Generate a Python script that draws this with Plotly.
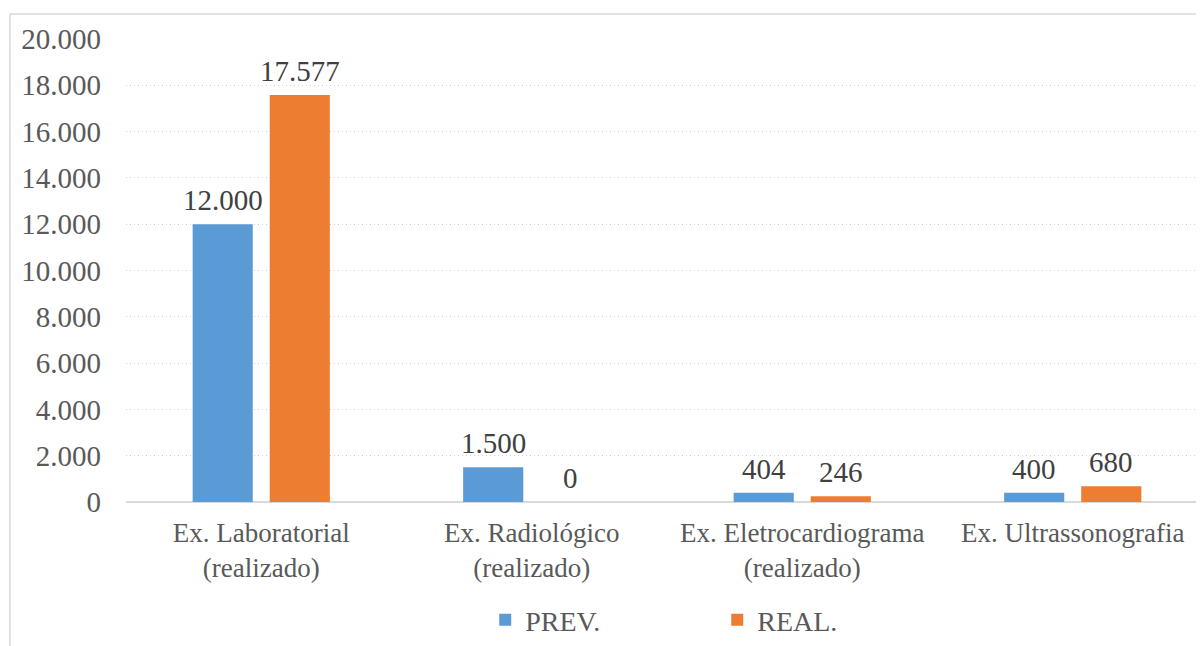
import plotly.graph_objects as go

categories = ["Ex. Laboratorial<br>(realizado)", "Ex. Radiológico<br>(realizado)",
              "Ex. Eletrocardiograma<br>(realizado)", "Ex. Ultrassonografia"]
prev_vals = [12000, 1500, 404, 400]
real_vals = [17577, 0, 246, 680]
y_ticks = [0, 2000, 4000, 6000, 8000, 10000, 12000, 14000, 16000, 18000, 20000]


def fmt(v):
    return f"{v:,}".replace(",", ".")


font = "Liberation Serif, Times New Roman, serif"
BARGAP = 0.43
GROUPGAP = 0.22

fig = go.Figure()
fig.add_trace(go.Bar(name="PREV.", x=categories, y=prev_vals, marker_color="#5B9BD5",
                     marker_line_width=0))
fig.add_trace(go.Bar(name="REAL.", x=categories, y=real_vals, marker_color="#ED7D31",
                     marker_line_width=0))

# data labels placed over each bar through the category axis
slot = (1 - BARGAP) / 2
annotations = []
for i, (p, r) in enumerate(zip(prev_vals, real_vals)):
    for val, off in ((p, -slot / 2), (r, slot / 2)):
        annotations.append(dict(x=i + off, y=val, xref="x", yref="y", text=fmt(val),
                                showarrow=False, yanchor="bottom", yshift=6,
                                font=dict(family=font, size=29, color="#404040")))

fig.update_layout(
    width=1204, height=646,
    margin=dict(l=118, r=4, t=31, b=152),
    paper_bgcolor="white", plot_bgcolor="white",
    barmode="group", bargap=BARGAP, bargroupgap=GROUPGAP,
    font=dict(family=font, size=27, color="#595959"),
    showlegend=True,
    legend=dict(orientation="h", x=0.332, xanchor="left", y=-0.255, yanchor="middle",
                font=dict(family=font, size=28, color="#595959"),
                entrywidth=187, bgcolor="rgba(0,0,0,0)"),
    xaxis=dict(range=[-0.5, 3.5], showgrid=False, showline=False, ticks="",
               ticklabelstandoff=12,
               tickfont=dict(family=font, size=27, color="#595959")),
    yaxis=dict(range=[0, 20000], tickvals=y_ticks, ticktext=[fmt(v) for v in y_ticks],
               showgrid=True, gridcolor="#d0d0d0", griddash="1px,3px", gridwidth=1,
               zeroline=True, zerolinecolor="#d9d9d9", zerolinewidth=1.5,
               showline=False, ticklabelstandoff=24,
               tickfont=dict(family=font, size=29, color="#595959")),
    annotations=annotations,
    shapes=[dict(type="rect", xref="paper", yref="paper", x0=-0.1072, x1=1.05,
                 y0=-0.5, y1=1.054, line=dict(color="#d9d9d9", width=1.5),
                 fillcolor="rgba(0,0,0,0)", layer="below")],
)

fig.write_html("out.html")
